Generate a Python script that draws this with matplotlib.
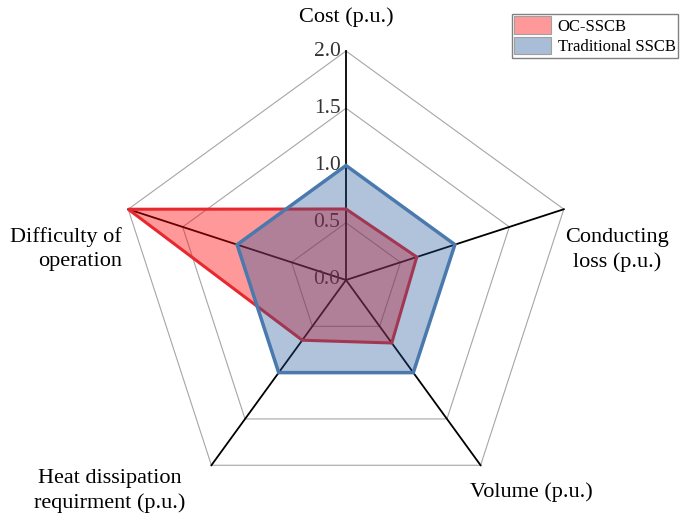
import numpy as np
import matplotlib.pyplot as plt
from matplotlib.patches import Patch

categories = ['Cost (p.u.)', 'Conducting\nloss (p.u.)', 'Volume (p.u.)',
              'Heat dissipation\nrequirment (p.u.)', 'Difficulty of\noperation']
oc_sscb = [0.62, 0.65, 0.68, 0.65, 2.0]
traditional = [1.0, 1.0, 1.0, 1.0, 1.0]
ticks = [0.0, 0.5, 1.0, 1.5, 2.0]
tick_labels = ['0.0', '0.5', '1.0', '1.5', '2.0']
series_names = ['OC-SSCB', 'Traditional SSCB']

plt.rcParams['font.family'] = 'Liberation Serif'

n = len(categories)
ang = np.pi / 2 - 2 * np.pi * np.arange(n) / n


def xy(vals):
    v = np.asarray(vals, float)
    x = v * np.cos(ang)
    y = v * np.sin(ang)
    return np.append(x, x[0]), np.append(y, y[0])


fig = plt.figure(figsize=(6.92, 5.2), dpi=100)
ax = fig.add_axes([0, 0, 1, 1])
px = 114.5  # pixels per unit
ax.set_xlim(-346 / px, 346 / px)
ax.set_ylim(-240 / px, 280 / px)
ax.axis('off')

# pentagon grid
for t in ticks[1:]:
    gx, gy = xy([t] * n)
    ax.plot(gx, gy, color='#a6a6a6', lw=0.8, zorder=1)

# spokes
rmax = ticks[-1]
for a in ang:
    ax.plot([0, rmax * np.cos(a)], [0, rmax * np.sin(a)], color='black', lw=1.3, zorder=2)

# radial tick labels
for t, lab in zip(ticks, tick_labels):
    ax.annotate(lab, (0, t), xytext=(-4, 0), textcoords='offset points',
                ha='right', va='center', fontsize=15.5, color='#333333', zorder=2)

# series
ox, oy = xy(oc_sscb)
ax.fill(ox, oy, facecolor=(1, 0, 0, 0.4), edgecolor='#e8282f', lw=2.2, zorder=3)
tx, ty = xy(traditional)
ax.fill(tx, ty, facecolor=(0.12, 0.33, 0.6, 0.35), edgecolor='#4a79ad', lw=2.5, zorder=4)

# category labels (pixel positions from top-left)
label_pos = [(346, 17, 'center'), (617, 250, 'center'), (531, 492, 'center'),
             (110, 491, 'center'), (122, 249, 'right')]
for lab, (lx, ly, ha) in zip(categories, label_pos):
    ax.text((lx - 346) / px, (280 - ly) / px, lab, ha=ha, va='center',
            multialignment=ha, fontsize=16, linespacing=1.35)

handles = [Patch(facecolor='#ff9999', edgecolor='#a0a0a0', lw=0.8),
           Patch(facecolor='#aabdd6', edgecolor='#a0a0a0', lw=0.8)]
leg = fig.legend(handles, series_names, loc='upper right',
                 bbox_to_anchor=(678 / 692, 1 - 14 / 520), fontsize=12,
                 fancybox=False, edgecolor='#808080', framealpha=1,
                 handlelength=2.2, handleheight=1.2, handletextpad=0.4,
                 borderpad=0.15, labelspacing=0.15, borderaxespad=0)
leg.get_frame().set_linewidth(1.0)

fig.savefig('out.png', dpi=100)
